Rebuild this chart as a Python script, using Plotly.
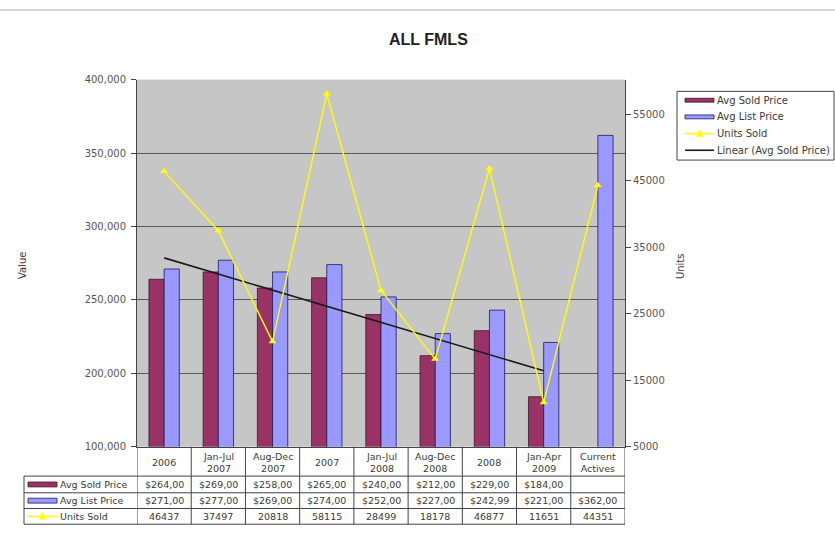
import numpy as np
import plotly.graph_objects as go

# ---------------- data ----------------
categories = ["2006", "Jan-Jul<br>2007", "Aug-Dec<br>2007", "2007", "Jan-Jul<br>2008",
              "Aug-Dec<br>2008", "2008", "Jan-Apr<br>2009", "Current<br>Actives"]
avg_sold_price = [264000, 269000, 258000, 265000, 240000, 212000, 229000, 184000, None]
avg_list_price = [271000, 277000, 269000, 274000, 252000, 227000, 242990, 221000, 362000]
units_sold = [46437, 37497, 20818, 58115, 28499, 18178, 46877, 11651, 44351]

left_tickvals = [150000, 200000, 250000, 300000, 350000, 400000]
left_ticktext = ["100,000", "200,000", "250,000", "300,000", "350,000", "400,000"]
right_tickvals = [5000, 15000, 25000, 35000, 45000, 55000]
right_ticktext = ["5000", "15000", "25000", "35000", "45000", "55000"]

series_names = ["Avg Sold Price", "Avg List Price", "Units Sold", "Linear (Avg Sold Price)"]

W, H = 835, 540
FONT = "DejaVu Sans, Verdana, sans-serif"
TITLE_FONT = "Liberation Sans, Arial, sans-serif"
TXT = "#3a3a3a"
SOLD_C = "#993366"
LIST_C = "#9999FF"
UNITS_C = "#FFFF00"
TREND_C = "#1a1a1a"
SOLD_LINE = "#3a1a2a"
LIST_LINE = "#1a1a5a"


def px(x):
    return x / W


def py(y):
    return 1 - y / H


x_idx = list(range(len(categories)))

# linear trend of Avg Sold Price (over categories that have a value)
tx = [i for i, v in zip(x_idx, avg_sold_price) if v is not None]
ty = [v for v in avg_sold_price if v is not None]
slope, intercept = np.polyfit(tx, ty, 1)
trend_y = [slope * i + intercept for i in tx]

fig = go.Figure()
fig.add_trace(go.Bar(x=x_idx, y=avg_sold_price, name=series_names[0],
                     marker=dict(color=SOLD_C, line=dict(color=SOLD_LINE, width=0.8))))
fig.add_trace(go.Bar(x=x_idx, y=avg_list_price, name=series_names[1],
                     marker=dict(color=LIST_C, line=dict(color=LIST_LINE, width=0.8))))
fig.add_trace(go.Scatter(x=tx, y=trend_y, mode="lines", name=series_names[3],
                         line=dict(color=TREND_C, width=1.6)))
fig.add_trace(go.Scatter(x=x_idx, y=units_sold, mode="lines+markers", name=series_names[2],
                         yaxis="y2", line=dict(color=UNITS_C, width=1.4),
                         marker=dict(symbol="triangle-up", size=7, color=UNITS_C)))

x0, x1 = 137, 625
y0, y1 = 76, 450

fig.update_layout(
    width=W, height=H,
    margin=dict(l=0, r=0, t=0, b=0),
    paper_bgcolor="white",
    plot_bgcolor="#C6C6C6",
    font=dict(family=FONT, size=9, color=TXT),
    barmode="group", bargap=0.44, bargroupgap=0,
    showlegend=False,
    xaxis=dict(domain=[px(x0), px(x1)], range=[-0.5, len(categories) - 0.5],
               showticklabels=False, ticks="", showgrid=False, zeroline=False,
               showline=True, linecolor="#444", linewidth=1, fixedrange=True),
    yaxis=dict(domain=[py(y1), py(y0)], range=[150000, 400000],
               tickvals=left_tickvals, ticktext=left_ticktext,
               ticks="outside", ticklen=5, tickcolor="#444", ticklabelstandoff=3,
               showline=True, linecolor="#444", linewidth=1,
               showgrid=True, gridcolor="#5a5a5a", gridwidth=1, zeroline=False,
               tickfont=dict(family=FONT, size=10, color="#555")),
    yaxis2=dict(overlaying="y", side="right", range=[5000, 60250],
                tickvals=right_tickvals, ticktext=right_ticktext,
                ticks="outside", ticklen=5, tickcolor="#444",
                showline=True, linecolor="#444", linewidth=1,
                showgrid=False, zeroline=False,
                tickfont=dict(family=FONT, size=10, color="#555")),
)

ann = []
shapes = []


def text_at(t, x, y, xref="paper", xanchor="center", size=9.5, color=TXT, angle=0,
            family=FONT):
    ann.append(dict(text=t, x=x, y=y, xref=xref, yref="paper", showarrow=False,
                    xanchor=xanchor, yanchor="middle", textangle=angle,
                    font=dict(size=size, color=color, family=family)))


# title
text_at("<b>ALL FMLS</b>", px(428), py(35.5), size=16, color="#222", family=TITLE_FONT)
# axis titles
text_at("Value", px(22), py(266), angle=-90, size=10)
text_at("Units", px(680), py(266), angle=-90, size=10)

# top border line of the screenshot
shapes.append(dict(type="line", xref="paper", yref="paper", x0=0, x1=1, y0=py(5), y1=py(5),
                   line=dict(color="#d8d8d8", width=2)))


def key(kind, xa, xb, yc, color, lcolor, half=2.5):
    if kind == "rect":
        shapes.append(dict(type="rect", xref="paper", yref="paper", x0=px(xa), x1=px(xb),
                           y0=py(yc + half), y1=py(yc - half), fillcolor=color,
                           line=dict(color=lcolor, width=0.8)))
    elif kind == "marker":
        shapes.append(dict(type="line", xref="paper", yref="paper", x0=px(xa), x1=px(xb),
                           y0=py(yc), y1=py(yc), line=dict(color=color, width=1.4)))
        xm = (xa + xb) / 2
        shapes.append(dict(type="path", xref="paper", yref="paper",
                           path=f"M {px(xm - 3.5)} {py(yc + 3)} L {px(xm + 3.5)} {py(yc + 3)} "
                                f"L {px(xm)} {py(yc - 4)} Z",
                           fillcolor=color, line=dict(color=color, width=0.5)))
    else:
        shapes.append(dict(type="line", xref="paper", yref="paper", x0=px(xa), x1=px(xb),
                           y0=py(yc), y1=py(yc), line=dict(color=color, width=1.6)))


# ---------------- legend (Excel style) ----------------
shapes.append(dict(type="rect", xref="paper", yref="paper", x0=px(677), x1=px(834),
                   y0=py(158), y1=py(88), fillcolor="white", line=dict(color="#444", width=1)))
leg_y = [97, 114, 131, 148]
leg_kind = [("rect", SOLD_C, SOLD_LINE), ("rect", LIST_C, LIST_LINE),
            ("marker", UNITS_C, UNITS_C), ("line", TREND_C, TREND_C)]
for name, yc, (kind, c, lc) in zip(series_names, leg_y, leg_kind):
    key(kind, 685, 714, yc, c, lc, half=2)
    text_at(name, px(715), py(yc), xanchor="left", size=10)

# ---------------- data table ----------------
row_lines = [480, 497, 513, 529]
row_centers = [488.5, 505, 521]
tbl_left = 24
for yl in row_lines:
    shapes.append(dict(type="line", xref="paper", yref="paper",
                       x0=px(tbl_left), x1=px(x1), y0=py(yl), y1=py(yl),
                       line=dict(color="#444", width=1)))
shapes.append(dict(type="line", xref="paper", yref="paper",
                   x0=px(tbl_left), x1=px(tbl_left), y0=py(480), y1=py(529),
                   line=dict(color="#444", width=1)))
for i in range(len(categories) + 1):
    shapes.append(dict(type="line", xref="x", yref="paper",
                       x0=i - 0.5, x1=i - 0.5, y0=py(y1), y1=py(529),
                       line=dict(color="#444", width=1)))

for i, c in enumerate(categories):
    text_at(c, i, py(466), xref="x", size=9.5)


def money(v):
    return "" if v is None else f"${v:,}"[:-1]


rows = [[money(v) for v in avg_sold_price],
        [money(v) for v in avg_list_price],
        [str(v) for v in units_sold]]
for r, (vals, yc) in enumerate(zip(rows, row_centers)):
    for i, t in enumerate(vals):
        text_at(t, i, py(yc), xref="x", size=9.5)
    text_at(series_names[r], px(58), py(yc), xanchor="left", size=9.5)
    kind, c, lc = leg_kind[r]
    key(kind, 28, 57, yc, c, lc, half=2.5)

fig.update_layout(annotations=ann, shapes=shapes)
fig.write_html("out.html")
